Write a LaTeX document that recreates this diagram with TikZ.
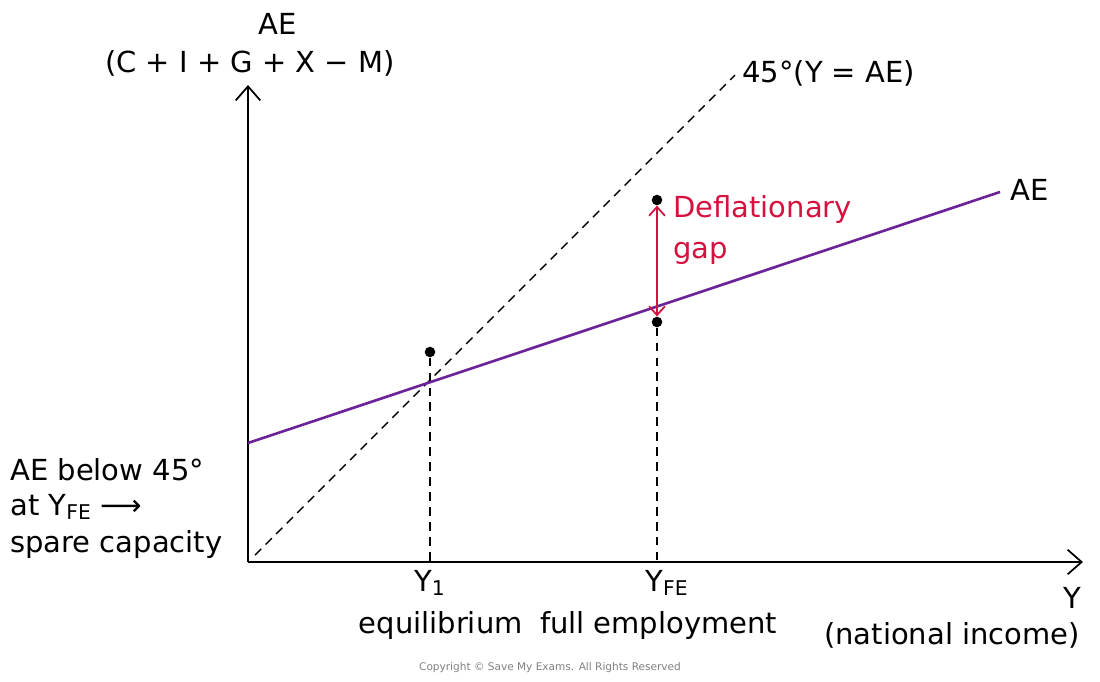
\documentclass[tikz,border=0pt]{standalone}
\usepackage{fontspec}
\setmainfont{DejaVu Sans}
\usetikzlibrary{arrows.meta}
\definecolor{aecol}{HTML}{6A2399}
\definecolor{gapcol}{HTML}{D6113F}
\begin{document}
\begin{tikzpicture}[x=0.02cm,y=-0.02cm,
  lbl/.style={font=\fontsize{16.5}{19}\selectfont, inner sep=0pt},
  dsh/.style={dash pattern=on 5pt off 3.5pt,line width=0.8pt},
  dot/.style={circle,fill=black,inner sep=0pt,minimum size=6pt},
  axis/.style={line width=1pt,-{Straight Barb[length=8pt,width=14pt]}}]
\useasboundingbox (0,0) rectangle (1100,681);
\coordinate (O) at (248,562);
\coordinate (ytop) at (248,85);
\coordinate (xend) at (1083,562);
\draw[axis] (O) -- (ytop);
\draw[axis] (O) -- (xend);
\coordinate (d1) at (255,555);
\coordinate (d2) at (735,75);
\draw[dsh] (d1) -- (d2);
\coordinate (a1) at (248,443);
\coordinate (a2) at (1000,192);
\draw[aecol,line width=1.5pt] (a1) -- (a2);
\node[dot] (p1) at (430,352) {};
\coordinate (b1) at (430,562);
\draw[dsh] (p1) -- (b1);
\node[dot] (p2) at (657,200) {};
\node[dot] (p3) at (657,322) {};
\coordinate (b2) at (657,562);
\draw[dsh] (p3) -- (b2);
\draw[gapcol,line width=1pt,{Straight Barb[length=5pt,width=9pt]}-{Straight Barb[length=5pt,width=9pt]}] (p2) -- (p3);
\node[lbl] (t1) at (278,24) {AE};
\node[lbl] (t2) at (250,63) {(C + I + G + X − M)};
\node[lbl,anchor=west] (t3) at (742,73) {45°(Y = AE)};
\node[lbl,anchor=west] (t4) at (1010,190) {AE};
\node[lbl,anchor=west,text=gapcol,align=left] (t5) at (673,230) {Deflationary\\[4pt]gap};
\node[lbl,anchor=west] (t6) at (10,470) {AE below 45°};
\node[lbl,anchor=west] (t7) at (10,507) {at Y\textsubscript{FE} ⟶};
\node[lbl,anchor=west] (t8) at (10,544) {spare capacity};
\node[lbl] (t9) at (430,583) {Y\textsubscript{1}};
\node[lbl] (t10) at (667,583) {Y\textsubscript{FE}};
\node[lbl] (t11) at (568,625) {equilibrium\hspace{0.6em}full employment};
\node[lbl] (t12) at (1072,598) {Y};
\node[lbl] (t13) at (952,635) {(national income)};
\node[font=\fontsize{6}{7}\selectfont,text=gray] (cp) at (550,668) {Copyright © Save My Exams. All Rights Reserved};
\end{tikzpicture}
\end{document}
